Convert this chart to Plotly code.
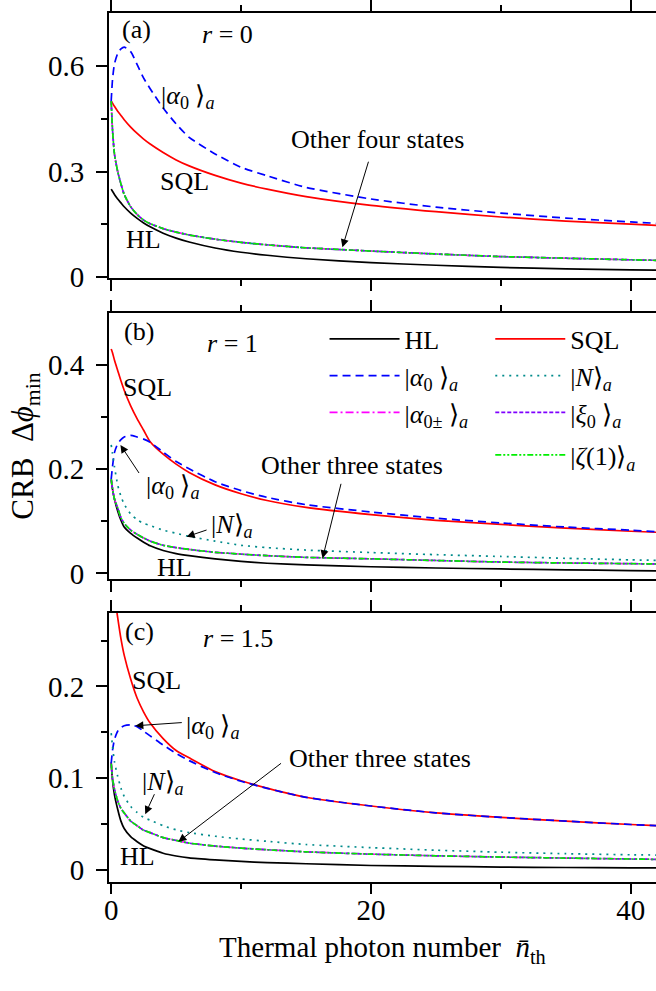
import plotly.graph_objects as go

# ---------------- data ----------------
n_th = [0, 0.1, 0.25, 0.5, 0.75, 1, 1.5, 2, 2.5, 3, 4, 5, 6, 8, 10, 12, 15, 20, 25, 30, 35, 40, 42]

# panel (a), r = 0
hl_a = [0.25, 0.244, 0.235, 0.222, 0.211, 0.2, 0.182, 0.167, 0.154, 0.143, 0.125, 0.111, 0.1, 0.083,
        0.071, 0.0625, 0.0526, 0.0415, 0.034, 0.028, 0.024, 0.021, 0.020]
sql_a = [0.5, 0.494, 0.485, 0.471, 0.459, 0.447, 0.426, 0.408, 0.392, 0.378, 0.354, 0.333, 0.316, 0.289,
         0.267, 0.25, 0.229, 0.204, 0.186, 0.171, 0.159, 0.1505, 0.147]
alpha0_a = [0.5, 0.56, 0.605, 0.635, 0.648, 0.653, 0.64, 0.603, 0.565, 0.535, 0.48, 0.435, 0.397, 0.35,
            0.312, 0.288, 0.255, 0.222, 0.199, 0.182, 0.168, 0.157, 0.153]
others_a = [0.5, 0.42, 0.35, 0.3, 0.265, 0.235, 0.2, 0.178, 0.162, 0.152, 0.138, 0.128, 0.12, 0.108,
            0.099, 0.092, 0.0835, 0.0744, 0.066, 0.0587, 0.054, 0.0496, 0.048]

# panel (b), r = 1
hl_b = [0.18, 0.162, 0.143, 0.12, 0.102, 0.089, 0.077, 0.068, 0.06, 0.053, 0.044, 0.038, 0.034, 0.028,
        0.023, 0.0195, 0.0162, 0.0128, 0.0104, 0.0085, 0.0068, 0.0055, 0.005]
sql_b = [0.431, 0.424, 0.41, 0.39, 0.37, 0.352, 0.322, 0.297, 0.275, 0.253, 0.229, 0.21, 0.194, 0.17,
         0.153, 0.14, 0.127, 0.113, 0.102, 0.094, 0.087, 0.081, 0.079]
alpha0_b = [0.181, 0.205, 0.232, 0.249, 0.257, 0.262, 0.265, 0.262, 0.258, 0.252, 0.233, 0.215, 0.201,
            0.176, 0.159, 0.146, 0.132, 0.118, 0.106, 0.097, 0.089, 0.083, 0.080]
fock_b = [0.247, 0.23, 0.205, 0.17, 0.148, 0.133, 0.114, 0.103, 0.096, 0.092, 0.083, 0.077, 0.071, 0.062,
          0.054, 0.0495, 0.0448, 0.040, 0.036, 0.0325, 0.029, 0.026, 0.025]
others_b = [0.181, 0.163, 0.143, 0.126, 0.107, 0.096, 0.083, 0.075, 0.068, 0.062, 0.054, 0.0495, 0.046,
            0.0405, 0.037, 0.034, 0.0308, 0.028, 0.0248, 0.0218, 0.020, 0.0187, 0.018]

# panel (c), r = 1.5
hl_c = [0.117, 0.098, 0.082, 0.066, 0.053, 0.045, 0.036, 0.0305, 0.026, 0.023, 0.018, 0.015, 0.013, 0.0108,
        0.009, 0.0078, 0.0065, 0.0046, 0.0037, 0.0029, 0.0024, 0.0021, 0.002]
sql_c = [0.339, 0.322, 0.3, 0.275, 0.252, 0.234, 0.208, 0.187, 0.172, 0.16, 0.143, 0.13, 0.122, 0.107,
         0.097, 0.089, 0.079, 0.0695, 0.062, 0.0571, 0.053, 0.0493, 0.048]
alpha0_c = [0.116, 0.13, 0.142, 0.151, 0.155, 0.157, 0.158, 0.156, 0.151, 0.146, 0.136, 0.127, 0.119, 0.106,
            0.0965, 0.0888, 0.079, 0.0695, 0.062, 0.0571, 0.053, 0.0493, 0.048]
fock_c = [0.149, 0.135, 0.118, 0.102, 0.089, 0.08, 0.069, 0.0624, 0.057, 0.054, 0.048, 0.0435, 0.0405,
          0.0365, 0.0335, 0.031, 0.0275, 0.0241, 0.0213, 0.0191, 0.0175, 0.0163, 0.016]
others_c = [0.1156, 0.1, 0.088, 0.075, 0.067, 0.062, 0.053, 0.048, 0.043, 0.0405, 0.035, 0.032, 0.029,
            0.0258, 0.0235, 0.0218, 0.0195, 0.017, 0.0152, 0.0138, 0.0127, 0.0117, 0.0113]

y_ranges = [[-0.003, 0.75], [-0.0105, 0.5], [-0.013, 0.28]]
y_major = [[0, 0.3, 0.6], [0, 0.2, 0.4], [0, 0.1, 0.2]]
y_minor = [[0.15, 0.45], [0.1, 0.3], [0.05, 0.15, 0.25]]
x_major = [0, 20, 40]
x_minor = [10, 30]

# ---------------- styling ----------------
FONT = "Liberation Serif, Times New Roman, serif"
names = {
    "HL": "HL",
    "SQL": "SQL",
    "a0": "|<i>α</i><sub>0</sub> ⟩<sub><i>a</i></sub>",
    "N": "|<i>N</i>⟩<sub><i>a</i></sub>",
    "a0pm": "|<i>α</i><sub>0±</sub> ⟩<sub><i>a</i></sub>",
    "xi": "|<i>ξ</i><sub>0</sub> ⟩<sub><i>a</i></sub>",
    "zeta": "|<i>ζ</i>(1)⟩<sub><i>a</i></sub>",
}
styles = {
    "HL": dict(color="black", width=1.7, dash="solid"),
    "SQL": dict(color="#FF0000", width=1.7, dash="solid"),
    "a0": dict(color="#0000FF", width=1.7, dash="8px,5px"),
    "N": dict(color="#008B8B", width=1.7, dash="2px,5px"),
    "a0pm": dict(color="#FF00FF", width=1.7, dash="8px,3px,2px,3px"),
    "xi": dict(color="#7F00FF", width=1.7, dash="4px,2px"),
    "zeta": dict(color="#00EE00", width=1.7, dash="6px,2px,2px,2px,2px,2px"),
}
legend_of = {"HL": "legend", "a0": "legend", "a0pm": "legend",
             "SQL": "legend2", "N": "legend2", "xi": "legend2", "zeta": "legend3"}

panels = [
    dict(HL=hl_a, SQL=sql_a, a0=alpha0_a, N=others_a, a0pm=others_a, xi=others_a, zeta=others_a),
    dict(HL=hl_b, SQL=sql_b, a0=alpha0_b, N=fock_b, a0pm=others_b, xi=others_b, zeta=others_b),
    dict(HL=hl_c, SQL=sql_c, a0=alpha0_c, N=fock_c, a0pm=others_c, xi=others_c, zeta=others_c),
]

fig = go.Figure()
order = ["HL", "SQL", "a0", "N", "a0pm", "xi", "zeta"]
for i, pdata in enumerate(panels):
    sfx = "" if i == 0 else str(i + 1)
    for key in order:
        fig.add_trace(go.Scatter(
            x=n_th, y=pdata[key], mode="lines", name=names[key],
            line=dict(shape="spline", smoothing=0.6, **styles[key]),
            xaxis="x" + sfx, yaxis="y" + sfx,
            showlegend=(i == 1), legend=legend_of[key],
            cliponaxis=True,
        ))

W, H = 656, 991
x_left = 104.7 / W
dom_y = [[1 - 276 / H, 1 - 4 / H], [1 - 584 / H, 1 - 311.7 / H], [1 - 894.3 / H, 1 - 619 / H]]

axis_common = dict(showline=True, linecolor="black", linewidth=1.5, ticks="outside",
                   tickcolor="black", tickwidth=1.5, ticklen=11, showgrid=False, zeroline=False,
                   tickfont=dict(family=FONT, size=29, color="black"))

layout = dict(
    width=W, height=H, margin=dict(l=0, r=0, t=0, b=0),
    paper_bgcolor="white", plot_bgcolor="white",
    font=dict(family=FONT, size=26, color="black"),
)
for i in range(3):
    sfx = "" if i == 0 else str(i + 1)
    layout["xaxis" + sfx] = dict(
        axis_common, domain=[x_left, 1], anchor="y" + sfx, range=[-0.176, 41.94],
        tickmode="array", tickvals=x_major, mirror="ticks",
        showticklabels=(i == 2),
        minor=dict(tickmode="array", tickvals=x_minor, ticklen=6, ticks="outside",
                   tickcolor="black", tickwidth=1.5),
    )
    layout["yaxis" + sfx] = dict(
        axis_common, domain=dom_y[i], anchor="x" + sfx, range=y_ranges[i],
        tickmode="array", tickvals=y_major[i], ticklabelstandoff=6,
        minor=dict(tickmode="array", tickvals=y_minor[i], ticklen=6, ticks="outside",
                   tickcolor="black", tickwidth=1.5),
    )

layout["xaxis3"]["ticklabelstandoff"] = -9
layout["xaxis3"]["title"] = dict(text="Thermal photon number  <i>n̄</i><sub>th</sub>",
                                 font=dict(family=FONT, size=29), standoff=12)
layout["yaxis2"]["title"] = dict(text="CRB  Δ<i>ϕ</i><sub>min</sub>",
                                 font=dict(family=FONT, size=31), standoff=5)

leg_common = dict(xanchor="left", yanchor="top", bgcolor="rgba(0,0,0,0)", itemwidth=70,
                  tracegroupgap=0, font=dict(family=FONT, size=26))
layout["legend"] = dict(leg_common, x=322 / W, y=1 - 314 / H)
layout["legend2"] = dict(leg_common, x=489 / W, y=1 - 314 / H)
layout["legend3"] = dict(leg_common, x=489 / W, y=1 - 433 / H)
fig.update_layout(**layout)

# ---------------- annotations ----------------
def txt(xr, yr, x, y, text, xanchor="center"):
    fig.add_annotation(xref=xr, yref=yr, x=x, y=y, text=text, showarrow=False,
                       xanchor=xanchor, yanchor="middle",
                       font=dict(family=FONT, size=26, color="black"))

def arrow(xr, yr, x0, y0, x1, y1):
    fig.add_annotation(xref=xr, yref=yr, axref=xr, ayref=yr, x=x1, y=y1, ax=x0, ay=y0,
                       text="", showarrow=True, arrowhead=2, arrowsize=1.6, arrowwidth=1,
                       arrowcolor="black")

# panel (a)
txt("x", "y", 1.91, 0.704, "(a)")
txt("x", "y", 8.94, 0.69, "<i>r</i> = 0")
txt("x", "y", 3.67, 0.511, names["a0"], "left")
txt("x", "y", 5.65, 0.271, "SQL")
txt("x", "y", 2.52, 0.108, "HL")
txt("x", "y", 20.47, 0.392, "Other four states")
arrow("x", "y", 19.84, 0.332, 17.8, 0.085)

# panel (b)
txt("x2", "y2", 2.14, 0.4654, "(b)")
txt("x2", "y2", 9.32, 0.441, "<i>r</i> = 1")
txt("x2", "y2", 2.83, 0.357, "SQL")
txt("x2", "y2", 2.52, 0.1655, names["a0"], "left")
arrow("x2", "y2", 2.22, 0.19, 0.71, 0.2467)
txt("x2", "y2", 7.56, 0.0905, names["N"], "left")
arrow("x2", "y2", 7.46, 0.0843, 5.81, 0.0705)
txt("x2", "y2", 4.89, 0.012, "HL")
txt("x2", "y2", 18.5, 0.2067, "Other three states")
arrow("x2", "y2", 17.72, 0.175, 16.27, 0.029)

# panel (c)
txt("x3", "y3", 2.2, 0.2596, "(c)")
txt("x3", "y3", 9.78, 0.252, "<i>r</i> = 1.5")
txt("x3", "y3", 3.51, 0.2064, "SQL")
txt("x3", "y3", 5.58, 0.156, names["a0"], "left")
arrow("x3", "y3", 5.55, 0.1606, 1.86, 0.157)
txt("x3", "y3", 3.97, 0.0947, names["N"])
arrow("x3", "y3", 3.38, 0.084, 2.62, 0.0606)
txt("x3", "y3", 20.7, 0.1213, "Other three states")
arrow("x3", "y3", 13.19, 0.1173, 5.17, 0.0305)
txt("x3", "y3", 2.06, 0.0149, "HL")

fig.write_html("out.html", config={"displayModeBar": False},
               post_script="document.body.style.margin='0';")
